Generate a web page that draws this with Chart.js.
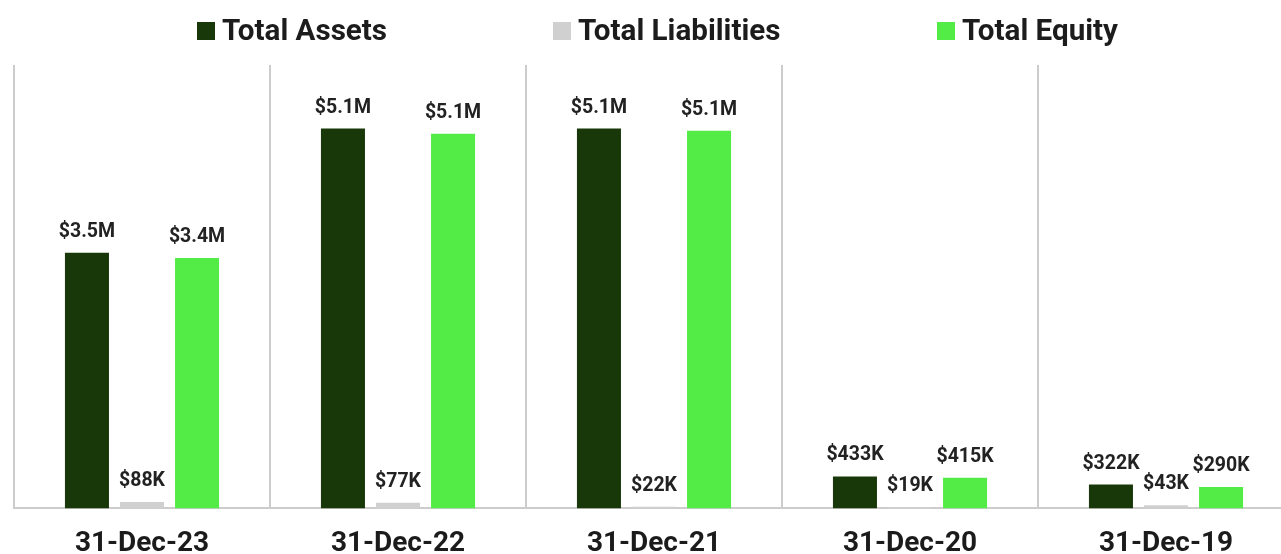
<!DOCTYPE html>
<html>
<head>
<meta charset="utf-8">
<script src="https://cdn.jsdelivr.net/npm/chart.js@4"></script>
<style>
  html, body { margin: 0; padding: 0; background: #ffffff; overflow: hidden; }
  #wrap { position: relative; width: 1310px; height: 594px; }
</style>
</head>
<body>
<div id="wrap"><canvas id="chart"></canvas></div>
<script>
// Balance sheet summary by fiscal year end
const categories = ['31-Dec-23', '31-Dec-22', '31-Dec-21', '31-Dec-20', '31-Dec-19'];
const totalAssets = [3460000, 5140000, 5140000, 433000, 322000];
const totalLiabilities = [88000, 77000, 22000, 19000, 43000];
const totalEquity = [3390000, 5070000, 5110000, 415000, 290000];
const seriesNames = ['Total Assets', 'Total Liabilities', 'Total Equity'];

const colors = ['#18380a', '#d0d0d0', '#53ec47'];
const FONT = 'Roboto, "Noto Sans", sans-serif';

function money(v) {
  if (v >= 1e6) return '$' + (v / 1e6).toFixed(1) + 'M';
  return '$' + Math.round(v / 1e3) + 'K';
}

// Value labels above each bar
const valueLabels = {
  id: 'valueLabels',
  afterDatasetsDraw(chart) {
    const ctx = chart.ctx;
    ctx.save();
    ctx.font = 'bold 19.5px ' + FONT;
    ctx.fillStyle = '#222222';
    ctx.textAlign = 'center';
    ctx.textBaseline = 'alphabetic';
    chart.data.datasets.forEach((ds, i) => {
      const meta = chart.getDatasetMeta(i);
      meta.data.forEach((bar, j) => {
        ctx.fillText(money(ds.data[j]), bar.x, bar.y - 16);
      });
    });
    ctx.restore();
  }
};

// Legend row across the top
const topLegend = {
  id: 'topLegend',
  afterDraw(chart, args, opts) {
    const ctx = chart.ctx;
    ctx.save();
    ctx.font = 'bold 29.6px ' + FONT;
    ctx.textBaseline = 'alphabetic';
    ctx.textAlign = 'left';
    chart.data.datasets.forEach((ds, i) => {
      const x = opts.xs[i];
      ctx.fillStyle = ds.backgroundColor;
      ctx.fillRect(x, 22, 18, 18);
      ctx.fillStyle = '#1c1c1c';
      ctx.fillText(ds.label, x + 25, 40);
    });
    ctx.restore();
  }
};

new Chart(document.getElementById('chart'), {
  type: 'bar',
  data: {
    labels: categories,
    datasets: [
      { label: seriesNames[0], data: totalAssets, backgroundColor: colors[0] },
      { label: seriesNames[1], data: totalLiabilities, backgroundColor: colors[1] },
      { label: seriesNames[2], data: totalEquity, backgroundColor: colors[2] }
    ]
  },
  options: {
    responsive: true,
    maintainAspectRatio: false,
    animation: false,
    layout: { padding: { top: 65, left: 14, right: 16, bottom: 14 } },
    datasets: { bar: { categoryPercentage: 0.645, barPercentage: 0.8 } },
    plugins: {
      legend: { display: false },
      tooltip: { enabled: false },
      topLegend: { xs: [197, 553, 937] }
    },
    scales: {
      x: {
        grid: { offset: true, color: '#cccccc', lineWidth: 2, drawTicks: false },
        border: { display: true, color: '#cccccc', width: 2 },
        ticks: {
          padding: 19,
          color: '#1b1b1b',
          font: { family: FONT, size: 28, weight: 'bold' }
        }
      },
      y: { display: false, min: 0, max: 6000000 }
    }
  },
  plugins: [valueLabels, topLegend]
});
</script>
</body>
</html>
